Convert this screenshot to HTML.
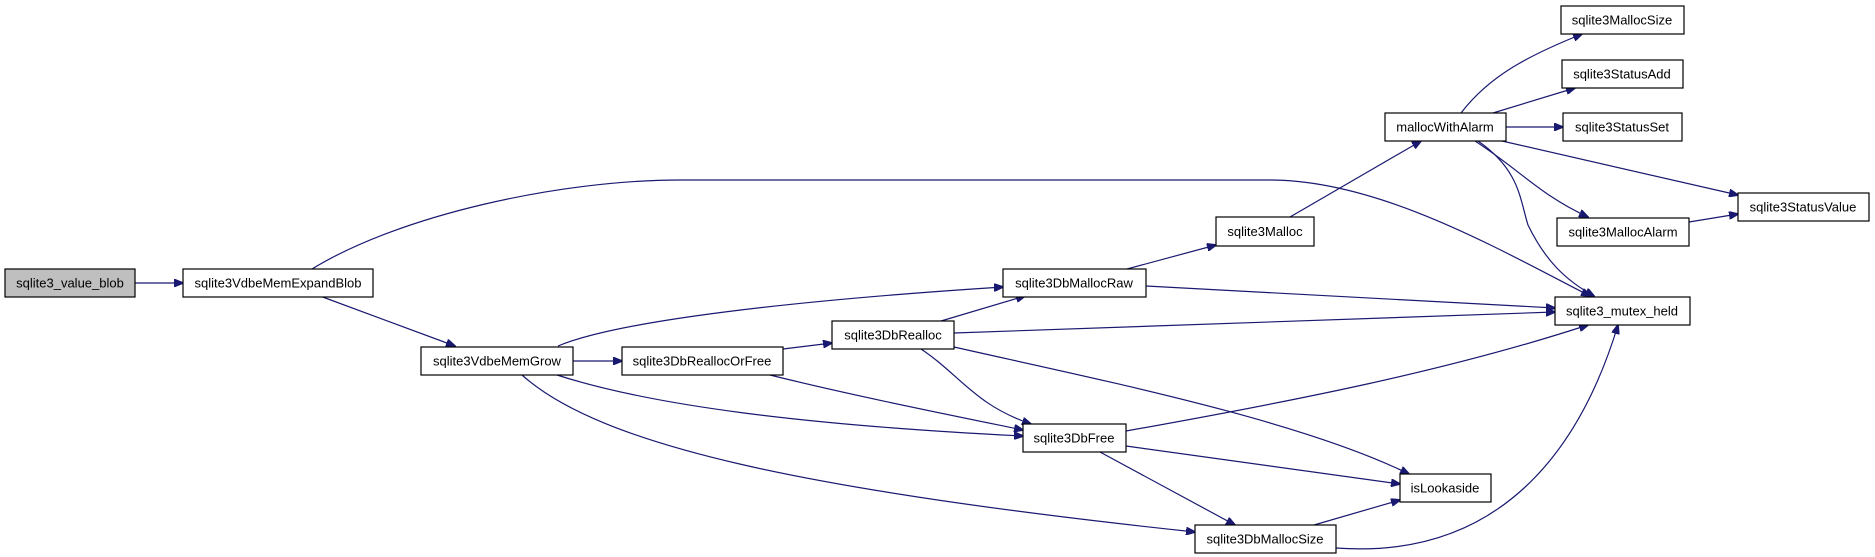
<!DOCTYPE html>
<html><head><meta charset="utf-8"><style>
html,body{margin:0;padding:0;background:#fff;}
svg{display:block;}
text{font-family:"Liberation Sans",sans-serif;font-size:13px;fill:#000;}
.e{fill:none;stroke:#191970;stroke-width:1.2;marker-end:url(#a);}
.n{fill:#fff;stroke:#000;stroke-width:1.2;}
</style></head><body>
<svg width="1875" height="557" viewBox="0 0 1875 557" xmlns="http://www.w3.org/2000/svg">
<defs><marker id="a" markerWidth="10" markerHeight="8" refX="9" refY="4" orient="auto" markerUnits="userSpaceOnUse"><path d="M0,0 L10,4 L0,8 z" fill="#191970" stroke="#191970"/></marker></defs>
<path class="e" d="M135,283 L183,283"/>
<path class="e" d="M312,269 C400,215 560,180 680,180 L1270,180 C1380,180 1500,250 1590,296"/>
<path class="e" d="M320,296 L455,346"/>
<path class="e" d="M558,346 C620,320 800,300 1003,287"/>
<path class="e" d="M573,361 L622,361"/>
<path class="e" d="M783,349 L832,343"/>
<path class="e" d="M557,375 C650,405 800,425 1023,436"/>
<path class="e" d="M522,375 C600,445 800,490 1195,532"/>
<path class="e" d="M770,375 C850,395 950,415 1023,430"/>
<path class="e" d="M941,321 L1025,296"/>
<path class="e" d="M954,333 L1555,312"/>
<path class="e" d="M921,349 C960,375 975,405 1031,424"/>
<path class="e" d="M954,347 C1100,380 1300,420 1409,474"/>
<path class="e" d="M1127,269 L1216,245"/>
<path class="e" d="M1146,286 L1555,308"/>
<path class="e" d="M1290,217 L1421,141"/>
<path class="e" d="M1461,113 C1490,75 1530,55 1582,34"/>
<path class="e" d="M1493,113 L1575,88"/>
<path class="e" d="M1506,127 L1563,127"/>
<path class="e" d="M1502,141 L1738,195"/>
<path class="e" d="M1475,141 C1520,170 1540,195 1588,217"/>
<path class="e" d="M1478,141 C1520,170 1520,200 1528,225 C1545,260 1565,280 1594,296"/>
<path class="e" d="M1689,222 L1738,214"/>
<path class="e" d="M1126,431 C1300,400 1450,370 1588,325"/>
<path class="e" d="M1126,446 L1400,484"/>
<path class="e" d="M1100,452 L1235,525"/>
<path class="e" d="M1314,525 L1400,500"/>
<path class="e" d="M1336,548 C1500,560 1580,450 1618,325"/>
<rect x="5" y="269" width="130" height="28" fill="#bfbfbf" stroke="#000" stroke-width="1.2"/>
<text x="70" y="287.5" text-anchor="middle">sqlite3_value_blob</text>
<rect class="n" x="183" y="269" width="190" height="28"/><text x="278" y="287.5" text-anchor="middle">sqlite3VdbeMemExpandBlob</text>
<rect class="n" x="421" y="347" width="152" height="28"/><text x="497" y="365.5" text-anchor="middle">sqlite3VdbeMemGrow</text>
<rect class="n" x="622" y="347" width="161" height="28"/><text x="702" y="365.5" text-anchor="middle">sqlite3DbReallocOrFree</text>
<rect class="n" x="832" y="321" width="122" height="28"/><text x="893" y="339.5" text-anchor="middle">sqlite3DbRealloc</text>
<rect class="n" x="1003" y="269" width="143" height="28"/><text x="1074" y="287.5" text-anchor="middle">sqlite3DbMallocRaw</text>
<rect class="n" x="1216" y="217" width="98" height="29"/><text x="1265" y="236" text-anchor="middle">sqlite3Malloc</text>
<rect class="n" x="1385" y="113" width="121" height="28"/><text x="1445" y="131.5" text-anchor="middle">mallocWithAlarm</text>
<rect class="n" x="1561" y="6" width="123" height="28"/><text x="1622" y="24.5" text-anchor="middle">sqlite3MallocSize</text>
<rect class="n" x="1562" y="60" width="121" height="28"/><text x="1622" y="78.5" text-anchor="middle">sqlite3StatusAdd</text>
<rect class="n" x="1563" y="113" width="119" height="28"/><text x="1622" y="131.5" text-anchor="middle">sqlite3StatusSet</text>
<rect class="n" x="1738" y="193" width="131" height="28"/><text x="1803" y="211.5" text-anchor="middle">sqlite3StatusValue</text>
<rect class="n" x="1557" y="218" width="132" height="28"/><text x="1623" y="236.5" text-anchor="middle">sqlite3MallocAlarm</text>
<rect class="n" x="1555" y="297" width="135" height="28"/><text x="1622" y="315.5" text-anchor="middle">sqlite3_mutex_held</text>
<rect class="n" x="1023" y="424" width="103" height="28"/><text x="1074" y="442.5" text-anchor="middle">sqlite3DbFree</text>
<rect class="n" x="1400" y="474" width="91" height="28"/><text x="1445" y="492.5" text-anchor="middle">isLookaside</text>
<rect class="n" x="1195" y="525" width="141" height="28"/><text x="1265" y="543.5" text-anchor="middle">sqlite3DbMallocSize</text>
</svg>
</body></html>
